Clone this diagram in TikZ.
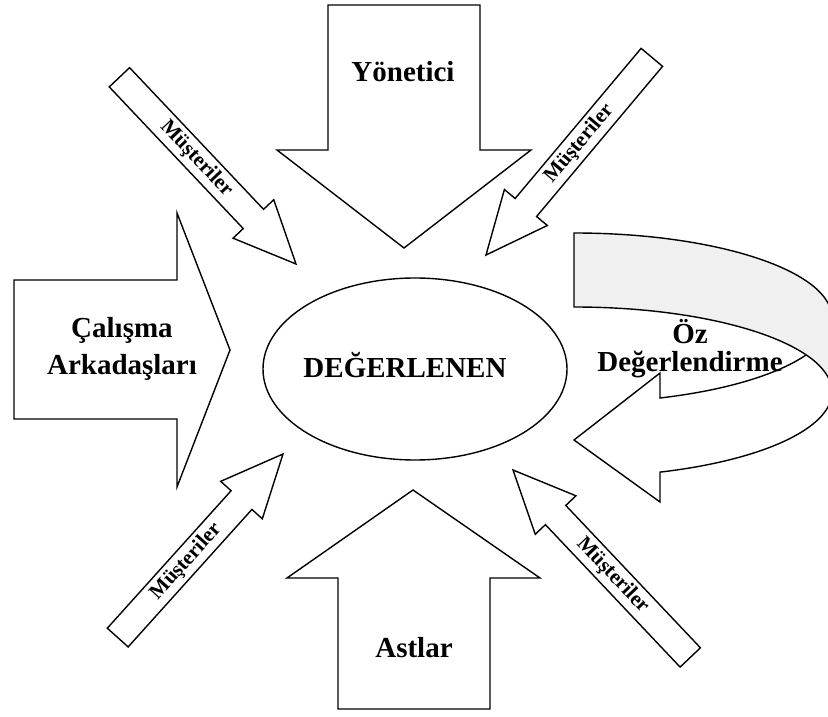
\documentclass[tikz,border=0pt]{standalone}
\usepackage{fontspec}
\setmainfont{Liberation Serif}
\usepackage{tikz}
\usetikzlibrary{shapes.geometric}
\definecolor{bandgray}{RGB}{240,240,240}

\begin{document}
\begin{tikzpicture}[x=1pt, y=1pt,
                    block/.style = {draw, fill=white, line width=1.4pt, line join=miter},
                    band/.style = {block, fill=bandgray},
                    big lbl/.style = {font=\bfseries\fontsize{29}{35}\selectfont, text=black},
                    small lbl/.style = {font=\bfseries\fontsize{21}{25}\selectfont, text=black, inner sep=0pt}]
    \clip (0,0) rectangle (828,716);
    \fill[white] (0,0) rectangle (828,716);
    % the one being rated
    \node (deger) [draw, ellipse, line width=1.4pt, minimum width=304pt, minimum height=182pt] at (415,347) {};
    \node (degtext) [big lbl, anchor=base] at (405,338) {DEĞERLENEN};
    % manager / subordinates
    \draw[block] (328,711) -- (480,711) -- (480,566) -- (531,566) -- (404,468) -- (277,566) -- (328,566) -- cycle;
    \node (yon) [big lbl, anchor=base] at (403,634) {Yönetici};
    \draw[block] (413,226) -- (540,138) -- (490,138) -- (490,7) -- (338,7) -- (338,138) -- (287,138) -- cycle;
    \node (ast) [big lbl, anchor=base] at (414,59) {Astlar};
    % peers
    \draw[block] (14,436) -- (177,436) -- (177,503) -- (230,366) -- (177,229) -- (177,297) -- (14,297) -- cycle;
    \node (calis) [big lbl, align=center, font=\bfseries\fontsize{29}{37}\selectfont] at (122,367) {Çalışma\\Arkadaşları};
    % self rating
    \draw[block] (574,276) -- (660,343) -- (660,318)
        arc[start angle=-70.53, end angle=0, x radius=258, y radius=85] -- (832,324)
        arc[start angle=0, end angle=-70.53, x radius=258, y radius=85] -- (660,214) -- cycle;
    \draw[band] (574,483) arc[start angle=90, end angle=0, x radius=258, y radius=85] -- (832,324)
        arc[start angle=0, end angle=90, x radius=258, y radius=85] -- cycle;
    \node (oz) [big lbl, align=center, font=\bfseries\fontsize{29}{28}\selectfont] at (690,367) {Öz\\Değerlendirme};
    % customers
    \foreach \tx/\ty/\ang/\len/\rot/\nm in {296/452/-46.6/257/-46.6/mtl, 486/461/-130/258/50/mtr,
                                            283/262/48/247/48/mbl, 513/246/133.4/258/-46.6/mbr} {
        \begin{scope}[shift={(\tx,\ty)}, rotate=\ang]
            \draw[block] (0,0) -- (-62,28) -- (-62,14) -- (-\len,14) -- (-\len,-14) -- (-62,-14) -- (-62,-28) -- cycle;
            \node (\nm) [small lbl, rotate=\rot] at (-145,0) {Müşteriler};
        \end{scope}
    }
\end{tikzpicture}
\end{document}
